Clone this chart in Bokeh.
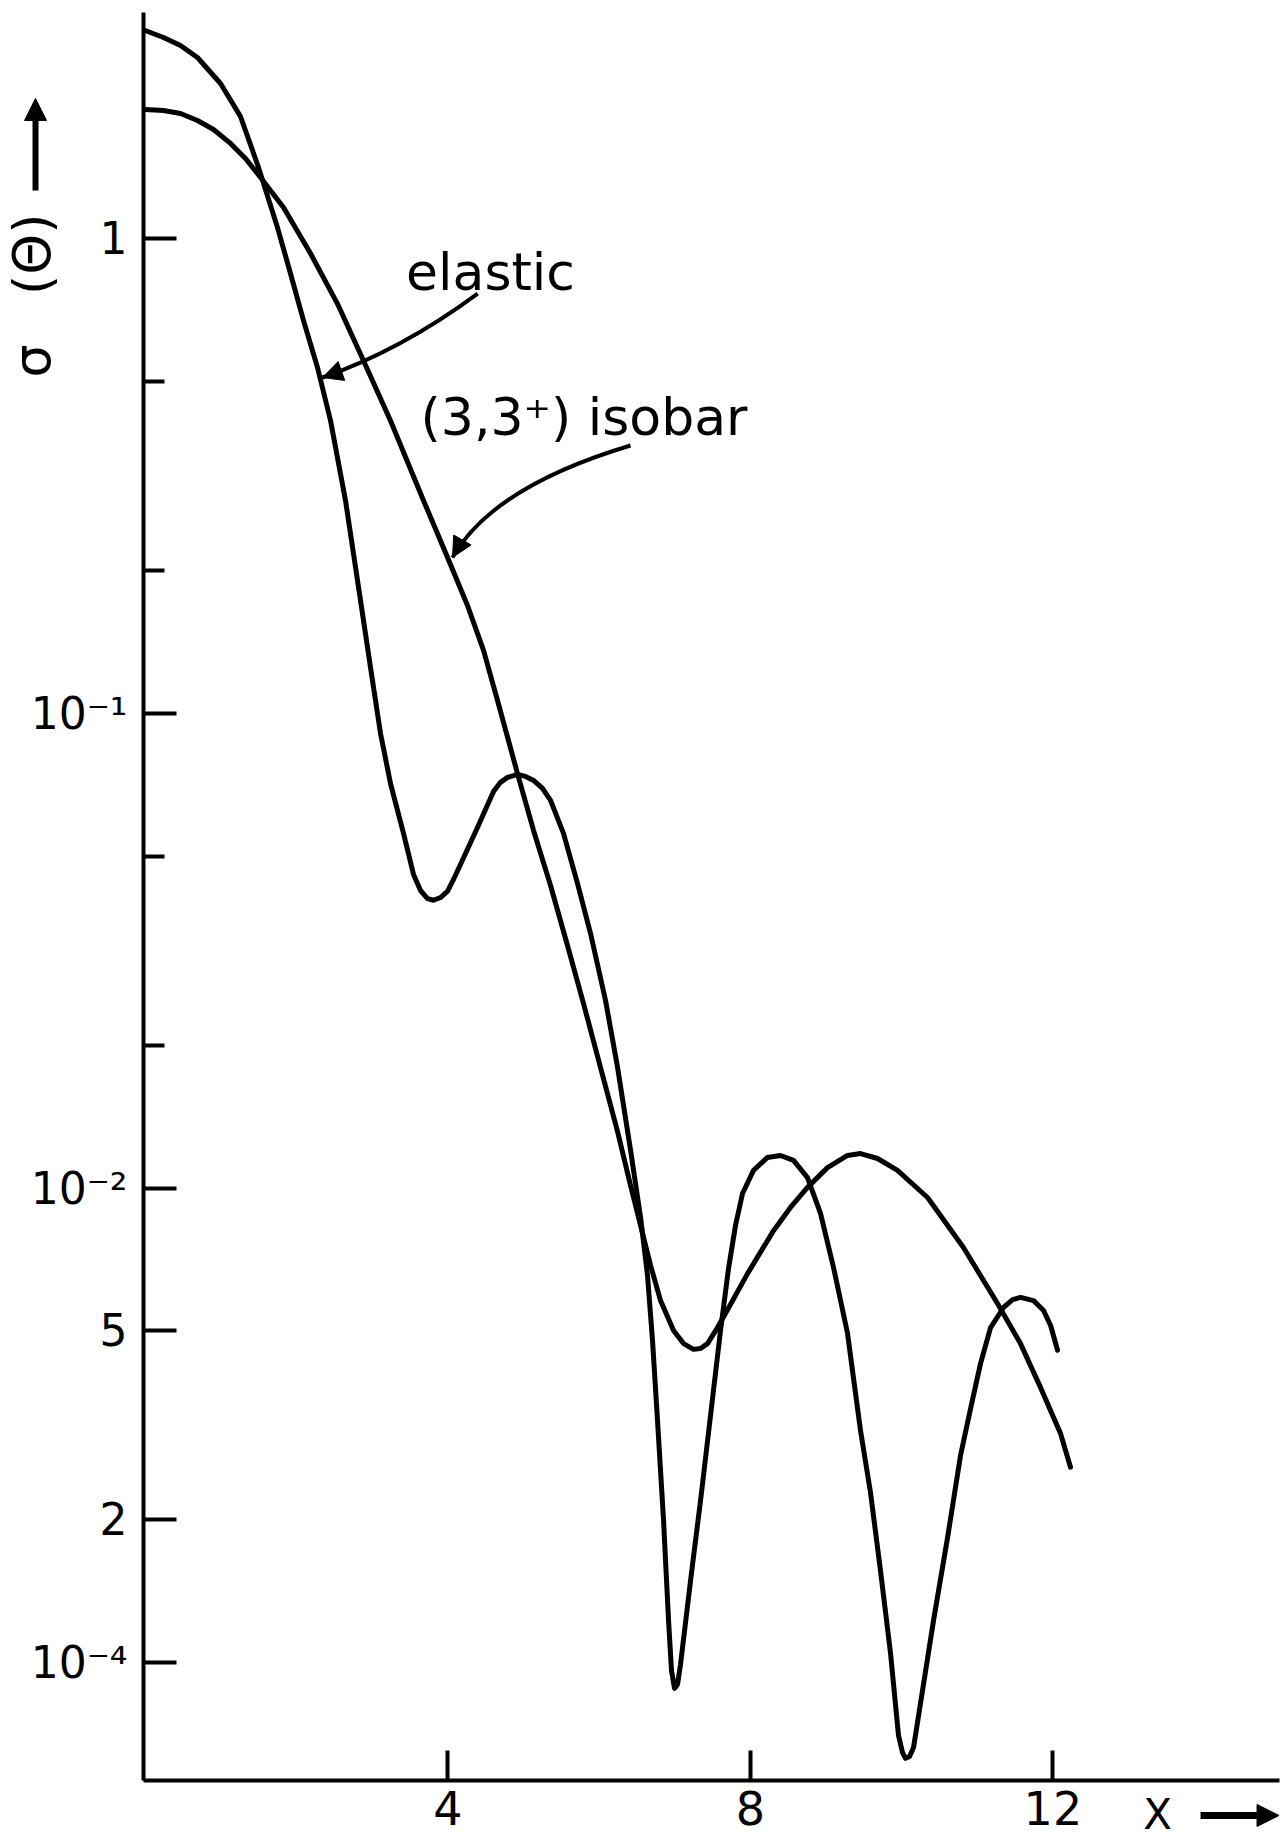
import numpy as np
from bokeh.plotting import figure
from bokeh.models import Range1d, FixedTicker, Label, Arrow, NormalHead
from bokeh.embed import file_html
from bokeh.resources import INLINE

# ---- data ----
elastic_x = [0.000, 0.242, 0.467, 0.691, 0.996, 1.260, 1.498, 1.749, 1.921, 2.093, 2.278, 2.450,
             2.648, 2.847, 2.979, 3.111, 3.243, 3.415, 3.547, 3.640, 3.732, 3.811, 3.904, 3.996,
             4.076, 4.168, 4.393, 4.605, 4.697, 4.790, 4.922, 5.028, 5.134, 5.253, 5.359, 5.530,
             5.716, 5.888, 6.086, 6.245, 6.417, 6.549, 6.641, 6.707, 6.773, 6.853, 6.919, 6.958,
             6.998, 7.038, 7.077, 7.210, 7.342, 7.474, 7.606, 7.712, 7.804, 7.897, 8.042, 8.227,
             8.399, 8.571, 8.756, 8.928, 9.100, 9.285, 9.457, 9.589, 9.721, 9.854, 9.959, 10.012,
             10.052, 10.105, 10.158, 10.250, 10.422, 10.608, 10.779, 10.912, 11.044, 11.176,
             11.348, 11.467, 11.573, 11.745, 11.877, 11.970, 12.062]
elastic_y = [2.750, 2.659, 2.557, 2.413, 2.127, 1.812, 1.415, 1.057, 0.846, 0.673, 0.536, 0.4145,
             0.2812, 0.1730, 0.1250, 0.0908, 0.0712, 0.0559, 0.0458, 0.04236, 0.04074, 0.0404,
             0.04094, 0.04216, 0.04469, 0.04806, 0.05752, 0.06849, 0.0716, 0.07333, 0.0744,
             0.07368, 0.07227, 0.06951, 0.0656, 0.0559, 0.0438, 0.03438, 0.02484, 0.01794, 0.0120,
             0.00867, 0.00654, 0.00477, 0.003236, 0.001992, 0.001226, 0.000962, 0.000882,
             0.000899, 0.000990, 0.001489, 0.002195, 0.003316, 0.005008, 0.006766, 0.008337,
             0.009736, 0.01089, 0.01160, 0.01171, 0.01143, 0.01052, 0.00884, 0.00680, 0.00494,
             0.00308, 0.00228, 0.001562, 0.001045, 0.000702, 0.000646, 0.000628, 0.000634,
             0.000662, 0.000820, 0.001226, 0.001834, 0.00273, 0.00343, 0.00427, 0.00508, 0.00560,
             0.00582, 0.00588, 0.00579, 0.00552, 0.00513, 0.00455]

isobar_x = [0.000, 0.242, 0.467, 0.691, 0.903, 1.128, 1.326, 1.525, 1.829, 2.186, 2.541, 2.885,
            3.242, 3.679, 3.970, 4.261, 4.473, 4.658, 4.922, 5.134, 5.359, 5.583, 5.795, 6.020,
            6.245, 6.417, 6.549, 6.681, 6.813, 6.985, 7.117, 7.249, 7.342, 7.434, 7.566, 7.699,
            7.963, 8.307, 8.531, 8.756, 9.020, 9.285, 9.457, 9.682, 9.946, 10.343, 10.818,
            11.268, 11.572, 11.836, 12.101, 12.233]
isobar_y = [1.875, 1.866, 1.839, 1.777, 1.701, 1.590, 1.478, 1.348, 1.165, 0.932, 0.731, 0.5545,
            0.4145, 0.2812, 0.2184, 0.1689, 0.1358, 0.1065, 0.0747, 0.0567, 0.0434, 0.03244,
            0.02447, 0.01794, 0.01315, 0.01012, 0.00834, 0.00687, 0.00579, 0.00501, 0.00470,
            0.00457, 0.00459, 0.00470, 0.00508, 0.00554, 0.00660, 0.00813, 0.00910, 0.01003,
            0.01104, 0.01171, 0.01182, 0.01154, 0.01089, 0.00955, 0.00749, 0.00571, 0.00470,
            0.00380, 0.00304, 0.00258]

x_ticks = [4, 8, 12]
x_tick_labels = ["4", "8", "12"]
y_major_ticks = [1, 0.1, 0.01, 0.005, 0.002, 0.001]
y_major_labels = ["1", "10⁻¹", "10⁻²", "5", "2", "10⁻⁴"]
y_minor_ticks = [0.5, 0.2, 0.05, 0.02]

# axis extents (data units)
X_AXIS_START, X_AXIS_END = -0.0225, 15.0
Y_AXIS_BOTTOM, Y_AXIS_TOP = 5.64e-4, 3.0

FONT = "DejaVu Sans"
BLACK = "black"
NBSP = "\u00a0"

p = figure(width=1281, height=1840, y_axis_type="log",
           x_range=Range1d(-1.9130, 15.0225), y_range=Range1d(4.2157e-4, 3.1815),
           output_backend="svg", toolbar_location=None,
           min_border_left=0, min_border_right=0, min_border_top=0, min_border_bottom=0)

p.outline_line_color = None
p.xgrid.visible = False
p.ygrid.visible = False
p.background_fill_color = "white"
p.border_fill_color = "white"

xa = p.xaxis[0]
ya = p.yaxis[0]
for ax in (xa, ya):
    ax.axis_line_width = 4
    ax.axis_line_color = BLACK
    ax.major_tick_line_width = 4
    ax.major_tick_line_color = BLACK
    ax.major_tick_out = 0
    ax.major_label_text_font = FONT
    ax.major_label_text_color = BLACK

xa.fixed_location = Y_AXIS_BOTTOM
xa.bounds = (X_AXIS_START, X_AXIS_END)
xa.ticker = FixedTicker(ticks=x_ticks)
xa.major_label_overrides = dict(zip(x_ticks, x_tick_labels))
xa.major_tick_in = 30
xa.minor_tick_line_color = None
xa.major_label_text_font_size = "46px"
xa.major_label_standoff = 10

ya.fixed_location = X_AXIS_START
ya.bounds = (Y_AXIS_BOTTOM, Y_AXIS_TOP)
ya.ticker = FixedTicker(ticks=y_major_ticks, minor_ticks=y_minor_ticks)
ya.major_label_overrides = dict(zip(y_major_ticks, y_major_labels))
ya.major_tick_in = 33
ya.minor_tick_in = 21
ya.minor_tick_out = 0
ya.minor_tick_line_width = 4
ya.minor_tick_line_color = BLACK
ya.major_label_text_font_size = "44px"
ya.major_label_standoff = 16

# curves
p.line(elastic_x, elastic_y, line_width=5, color=BLACK, line_join="round", line_cap="round")
p.line(isobar_x, isobar_y, line_width=5, color=BLACK, line_join="round", line_cap="round")

# pointer arrows (start, control, tip)
pointers = [
    dict(x0=4.396, y0=0.7673, cx=3.375, cy=0.582, x1=2.344, y1=0.5106),
    dict(x0=6.416, y0=0.3671, cx=4.592, cy=0.3003, x1=4.063, y1=0.2133),
]
for pt in pointers:
    p.quadratic(x0=[pt["x0"]], y0=[pt["y0"]], x1=[pt["x1"]], y1=[pt["y1"]],
                cx=[pt["cx"]], cy=[pt["cy"]], line_width=4, line_color=BLACK)
    p.add_layout(Arrow(end=NormalHead(size=20, fill_color=BLACK, line_color=BLACK, line_width=1),
                       x_start=pt["cx"], y_start=pt["cy"], x_end=pt["x1"], y_end=pt["y1"],
                       line_alpha=0))

# annotations
p.add_layout(Label(x=4.565, y=0.850, text="elastic", text_font=FONT, text_font_size="52px",
                   text_align="center", text_baseline="middle", text_color=BLACK))
p.add_layout(Label(x=5.801, y=0.4225, text="(3,3⁺) isobar", text_font=FONT, text_font_size="52px",
                   text_align="center", text_baseline="middle", text_color=BLACK))

# y-axis title with arrow
p.add_layout(Label(x=-1.490, y=0.760, text="σ" + NBSP * 3 + "(Θ)", angle=np.pi / 2,
                   text_font=FONT, text_font_size="52px", text_align="center",
                   text_baseline="middle", text_color=BLACK))
p.add_layout(Arrow(x_start=-1.45, y_start=1.265, x_end=-1.45, y_end=1.978, line_width=6,
                   line_color=BLACK,
                   end=NormalHead(size=22, fill_color=BLACK, line_color=BLACK, line_width=1)))

# x-axis title with arrow
p.add_layout(Label(x=13.385, y=4.783e-4, text="X", text_font=FONT, text_font_size="42px",
                   text_align="center", text_baseline="middle", text_color=BLACK))
p.add_layout(Arrow(x_start=13.952, y_start=4.76e-4, x_end=14.99, y_end=4.76e-4, line_width=7,
                   line_color=BLACK,
                   end=NormalHead(size=22, fill_color=BLACK, line_color=BLACK, line_width=1)))

open("out.html", "w").write(file_html(p, INLINE))
